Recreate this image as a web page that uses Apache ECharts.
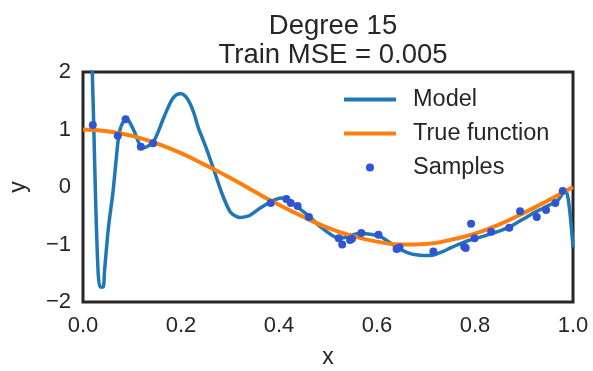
<!DOCTYPE html>
<html>
<head>
<meta charset="utf-8">
<script src="https://cdn.jsdelivr.net/npm/echarts@6/dist/echarts.min.js"></script>
<style>html,body{margin:0;padding:0;background:#fff;}#c{width:593px;height:371px;}</style>
</head>
<body>
<div id="c"></div>
<script>
// Samples
var sampleX = [0.020, 0.071, 0.087, 0.118, 0.143, 0.383, 0.415, 0.424, 0.438, 0.461,
               0.522, 0.529, 0.545, 0.549, 0.568, 0.603, 0.640, 0.646, 0.715, 0.778,
               0.781, 0.792, 0.799, 0.833, 0.870, 0.892, 0.926, 0.945, 0.964, 0.979];
var sampleY = [1.08, 0.89, 1.18, 0.70, 0.76, -0.28, -0.21, -0.28, -0.33, -0.52,
               -0.89, -1.00, -0.92, -0.90, -0.80, -0.83, -1.08, -1.05, -1.12, -1.04,
               -1.06, -0.64, -0.89, -0.78, -0.71, -0.42, -0.52, -0.40, -0.28, -0.07];

// Degree-15 model curve
var modelX = [0.012, 0.015, 0.019, 0.022, 0.026, 0.031, 0.035, 0.041, 0.044, 0.052,
              0.061, 0.068, 0.073, 0.080, 0.090, 0.100, 0.106, 0.115, 0.122, 0.130,
              0.143, 0.153, 0.163, 0.172, 0.181, 0.190, 0.200, 0.210, 0.218, 0.227,
              0.235, 0.245, 0.253, 0.267, 0.283, 0.300, 0.310, 0.320, 0.330, 0.341,
              0.361, 0.382, 0.395, 0.406, 0.418, 0.430, 0.447, 0.463, 0.480, 0.498,
              0.512, 0.524, 0.537, 0.550, 0.568, 0.586, 0.606, 0.625, 0.647, 0.665,
              0.680, 0.695, 0.708, 0.720, 0.735, 0.750, 0.769, 0.787, 0.804, 0.820,
              0.837, 0.855, 0.871, 0.888, 0.906, 0.922, 0.939, 0.955, 0.967, 0.976,
              0.982, 0.986, 0.990, 0.995, 1.000];
var modelY = [6.0, 3.5, 2.0, 1.05, -0.3, -1.5, -1.74, -1.74, -1.45, -0.7,
              -0.1, 0.5, 0.89, 1.1, 1.18, 1.05, 0.94, 0.75, 0.68, 0.70,
              0.78, 0.95, 1.17, 1.35, 1.51, 1.60, 1.62, 1.57, 1.46, 1.27,
              1.04, 0.82, 0.64, 0.30, -0.10, -0.43, -0.50, -0.53, -0.52, -0.49,
              -0.37, -0.26, -0.21, -0.19, -0.22, -0.30, -0.41, -0.52, -0.66, -0.78,
              -0.86, -0.89, -0.87, -0.83, -0.81, -0.82, -0.86, -0.96, -1.08, -1.15,
              -1.18, -1.19, -1.19, -1.17, -1.12, -1.06, -0.99, -0.93, -0.89, -0.85,
              -0.80, -0.75, -0.69, -0.61, -0.52, -0.44, -0.37, -0.30, -0.25, -0.15,
              -0.08, -0.08, -0.20, -0.55, -1.05];

// True function curve
var trueX = [0.00, 0.05, 0.10, 0.15, 0.20, 0.25, 0.30, 0.35, 0.40, 0.45, 0.50,
             0.55, 0.60, 0.65, 0.70, 0.75, 0.80, 0.85, 0.90, 0.95, 1.00];
var trueY = [1.00, 0.97, 0.89, 0.76, 0.59, 0.38, 0.16, -0.08, -0.31, -0.52, -0.71,
             -0.85, -0.95, -1.00, -0.99, -0.92, -0.81, -0.65, -0.45, -0.23, 0.00];

var xTicks = [0, 0.2, 0.4, 0.6, 0.8, 1.0];
var yTicks = [-2, -1, 0, 1, 2];

function zip(a, b) { return a.map(function (v, i) { return [v, b[i]]; }); }

var FONT = '"Liberation Sans", Arial, sans-serif';
var TXT = '#262626';
var LINE_ICON = 'path://M0,0 L52,0 L52,4 L0,4 Z';
var chart = echarts.init(document.getElementById('c'), null, {renderer: 'canvas'});
chart.setOption({
  animation: false,
  backgroundColor: '#ffffff',
  textStyle: {fontFamily: FONT, color: TXT},
  title: {
    text: 'Degree 15\nTrain MSE = 0.005',
    left: 328, top: 7, textAlign: 'center',
    textStyle: {fontFamily: FONT, fontSize: 27.5, fontWeight: 'normal', color: TXT, lineHeight: 29}
  },
  grid: {left: 83, right: 20, top: 72, bottom: 69, show: true, containLabel: false,
         outerBoundsMode: 'none',
         borderColor: '#262626', borderWidth: 3, backgroundColor: '#ffffff'},
  legend: {
    orient: 'vertical', left: 344, top: 86, padding: 0,
    itemWidth: 52, itemHeight: 8, itemGap: 7, symbolKeepAspect: true,
    textStyle: {fontFamily: FONT, fontSize: 23.5, color: TXT, lineHeight: 27, padding: [0, 0, 0, 12]},
    data: [
      {name: 'Model', icon: LINE_ICON},
      {name: 'True function', icon: LINE_ICON},
      {name: 'Samples', icon: 'circle'}
    ]
  },
  xAxis: {
    type: 'value', min: xTicks[0], max: xTicks[xTicks.length - 1], interval: 0.2,
    name: 'x', nameLocation: 'middle', nameGap: 44,
    nameTextStyle: {fontFamily: FONT, fontSize: 23, color: TXT},
    axisLine: {show: false}, axisTick: {show: false}, splitLine: {show: false},
    axisLabel: {fontFamily: FONT, fontSize: 22, color: TXT, margin: 13,
                formatter: function (v) { return v.toFixed(1); }}
  },
  yAxis: {
    type: 'value', min: yTicks[0], max: yTicks[yTicks.length - 1], interval: 1,
    name: 'y', nameLocation: 'middle', nameGap: 53, nameRotate: 90,
    nameTextStyle: {fontFamily: FONT, fontSize: 23, color: TXT},
    axisLine: {show: false}, axisTick: {show: false}, splitLine: {show: false},
    axisLabel: {fontFamily: FONT, fontSize: 22, color: TXT, margin: 12,
                formatter: function (v) { return String(v).replace('-', '\u2212'); }}
  },
  series: [
    {name: 'Model', type: 'line', data: zip(modelX, modelY), smooth: 0.3,
     showSymbol: false, symbol: 'none', clip: true, z: 2,
     itemStyle: {color: '#1f77b4'}, lineStyle: {color: '#1f77b4', width: 3.5}},
    {name: 'True function', type: 'line', data: zip(trueX, trueY), smooth: true,
     showSymbol: false, symbol: 'none', clip: true, z: 3,
     itemStyle: {color: '#ff7f0e'}, lineStyle: {color: '#ff7f0e', width: 4}},
    {name: 'Samples', type: 'scatter', data: zip(sampleX, sampleY), symbol: 'circle',
     symbolSize: 8, z: 4, itemStyle: {color: '#2f55d4', opacity: 1}}
  ]
});
</script>
</body>
</html>
